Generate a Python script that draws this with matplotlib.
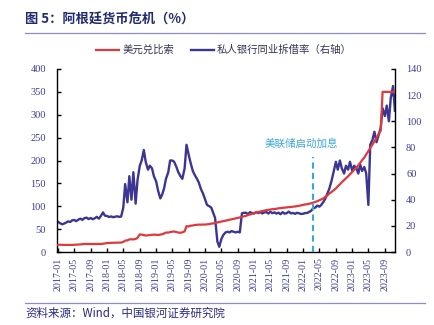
import matplotlib
matplotlib.use("Agg")
import matplotlib.pyplot as plt
import matplotlib.dates as mdates
from matplotlib.lines import Line2D
import pandas as pd

# ---------------- data (semi-monthly readings) ----------------
start_date = "2017-01-01"
end_date = "2023-11-15"

# USD/ARS (left axis)
usd_ars = [
    15.8, 15.9, 15.6, 15.5, 15.5, 15.4, 15.4, 15.5, 15.8, 16.1, 16.2, 16.6,
    17.2, 17.6, 17.5, 17.4, 17.3, 17.4, 17.6, 17.6, 17.6, 17.5, 18.0, 18.8,
    19.5, 19.8, 20.1, 20.2, 20.3, 20.4, 20.4, 20.6, 22.0, 24.8, 25.5, 27.5,
    27.8, 27.5, 28.5, 31.0, 38.5, 38.0, 37.0, 36.0, 36.5, 36.8, 37.5, 38.0,
    37.5, 37.2, 38.0, 39.0, 40.5, 42.5, 42.5, 43.5, 44.5, 44.8, 43.5, 42.5,
    42.0, 43.0, 45.0, 56.5, 56.0, 57.5, 58.0, 59.0, 59.5, 59.8, 59.9, 59.9,
    60.0, 60.5, 61.0, 62.0, 62.5, 63.5, 64.5, 65.5, 66.5, 67.5, 68.5, 69.5,
    70.5, 71.5, 72.5, 73.5, 74.5, 75.5, 77.0, 78.0, 79.0, 81.0, 82.0, 83.5,
    85.0, 86.5, 87.5, 88.5, 89.5, 90.5, 91.5, 92.0, 93.0, 93.5, 94.0, 94.5,
    95.5, 96.0, 96.5, 97.0, 97.5, 98.0, 98.5, 99.0, 99.5, 100.2, 101.0, 102.0,
    103.0, 104.0, 104.5, 105.5, 106.5, 108.0, 109.5, 111.0, 113.0, 115.0, 117.5, 120.5,
    124.0, 128.0, 131.5, 135.0, 139.0, 143.5, 148.0, 152.5, 157.0, 161.0, 165.5, 170.0,
    175.0, 179.5, 184.5, 189.5, 195.0, 200.5, 206.5, 213.5, 220.5, 227.5, 235.0, 242.0,
    249.5, 257.0, 265.0, 350.0, 350.0, 350.0, 350.0, 350.0, 350.0, 352.0,
]

# Private bank interbank rate (right axis)
interbank_rate = [
    23.0, 22.0, 21.2, 21.8, 22.5, 23.4, 23.0, 24.2, 24.5, 23.6, 24.8, 25.5,
    24.6, 25.9, 26.3, 25.2, 26.0, 25.1, 25.8, 26.9, 25.5, 27.6, 30.3, 27.8,
    27.5, 26.8, 27.2, 26.6, 27.0, 27.3, 26.9, 27.1, 34.0, 52.0, 38.0, 58.0,
    40.0, 61.0, 37.0, 55.0, 66.0, 70.0, 78.0, 69.0, 63.0, 66.0, 64.0, 58.0,
    54.0, 47.0, 41.0, 44.0, 48.7, 56.0, 61.0, 70.0, 70.0, 69.0, 65.0, 61.0,
    58.0, 56.0, 64.0, 82.0, 74.0, 68.0, 62.0, 59.0, 56.0, 53.0, 48.0, 45.0,
    40.0, 36.0, 35.0, 34.0, 30.0, 26.0, 8.0, 4.0, 10.0, 13.0, 15.0, 15.5,
    15.0, 16.0, 15.5, 15.0, 15.5, 15.0, 29.6, 30.0, 30.0, 29.0, 30.5, 29.8,
    29.5, 30.5, 29.8, 30.6, 29.5, 30.2, 30.6, 29.4, 30.8, 29.7, 30.3, 29.4,
    30.1, 28.9, 30.5, 29.3, 29.8, 30.9, 29.5, 29.9, 29.2, 30.0, 29.6, 29.1,
    29.3, 29.8, 29.9, 30.8, 31.5, 33.4, 34.0, 35.5, 34.7, 36.0, 38.5, 41.0,
    45.0, 48.7, 55.0, 61.4, 69.0, 63.0, 70.0, 64.0, 60.0, 66.0, 63.0, 69.0,
    62.0, 66.0, 64.0, 60.0, 67.0, 62.0, 65.0, 60.0, 36.0, 82.0, 86.0, 92.0,
    84.0, 89.0, 95.0, 110.0, 104.0, 112.0, 100.0, 118.0, 127.0, 108.0,
]

series_names = ["美元兑比索", "私人银行同业拆借率（右轴）"]
left_ticks = [0, 50, 100, 150, 200, 250, 300, 350, 400]
right_ticks = [0, 20, 40, 60, 80, 100, 120, 140]
fed_hike_date = "2022-03-16"
fed_hike_label = "美联储启动加息"
title_text = "图 5：阿根廷货币危机（%）"
source_text = "资料来源：Wind，中国银河证券研究院"

dates = pd.date_range(start_date, end_date, freq="SMS")
xticks = pd.date_range("2017-01-01", "2023-09-01", freq="4MS")

# ---------------- styling ----------------
plt.rcParams["font.family"] = ["Noto Sans CJK SC", "DejaVu Sans"]
RED = "#e0393c"
NAVY = "#3b3593"
TICKC = "#3c3c96"
CYAN = "#3aa8d6"
LINEC = "#8c8ccc"

fig = plt.figure(figsize=(4.34, 3.25), dpi=100)
ax = fig.add_axes([0.1313, 0.2246, 0.7787, 0.5631])
ax2 = ax.twinx()

ax.plot(dates, usd_ars, color=RED, lw=1.6, zorder=3)
ax2.plot(dates, interbank_rate, color=NAVY, lw=1.7, zorder=2)
ax.set_zorder(ax2.get_zorder() + 1)
ax.patch.set_visible(False)

ax.set_ylim(0, 400)
ax2.set_ylim(0, 140)
ax.set_yticks(left_ticks)
ax2.set_yticks(right_ticks)
ax.set_xlim(pd.Timestamp("2016-12-23"), pd.Timestamp(end_date))
ax.set_xticks(xticks)
ax.xaxis.set_major_formatter(mdates.DateFormatter("%Y-%m"))

serif = "Liberation Serif"
for a in (ax, ax2):
    a.spines["top"].set_visible(False)
    for s in ("left", "right", "bottom"):
        a.spines[s].set_linewidth(1.0)
        a.spines[s].set_color("black")
ax.spines["right"].set_visible(False)
ax2.spines["left"].set_visible(False)
ax2.spines["bottom"].set_visible(False)

ax.tick_params(axis="y", direction="in", length=3, width=1, pad=8,
               labelsize=7.5, labelcolor=TICKC)
ax2.tick_params(axis="y", direction="in", length=3, width=1, pad=8,
                labelsize=7.5, labelcolor=TICKC)
ax.tick_params(axis="x", direction="in", length=3, width=1, pad=4,
               labelsize=7.2, labelcolor=TICKC, rotation=90)
for lab in ax.get_yticklabels() + ax2.get_yticklabels() + ax.get_xticklabels():
    lab.set_fontfamily(serif)

# Fed hike marker
ax.vlines(pd.Timestamp(fed_hike_date), 0, 208, colors=CYAN, lw=1.5,
          linestyles=(0, (3, 2)), zorder=4)
ax.text(pd.Timestamp("2021-12-15"), 237, fed_hike_label, color=CYAN,
        fontsize=7.6, ha="center", va="center")

# Legend
handles = [Line2D([], [], color=RED, lw=1.6), Line2D([], [], color=NAVY, lw=1.7)]
fig.legend(handles, series_names, loc="center", bbox_to_anchor=(0.516, 0.846),
           ncol=2, frameon=False, fontsize=7.5, handlelength=2.2,
           handletextpad=0.3, columnspacing=1.6, labelcolor="#333355")

# Title, rules, source
fig.text(25 / 434, 1 - 20 / 325, title_text, fontsize=9.5, fontweight="bold",
         color="#1f2a6e", ha="left", va="center")
fig.add_artist(Line2D([25 / 434, 425 / 434], [1 - 32.5 / 325] * 2,
                      color=LINEC, lw=0.9))
fig.add_artist(Line2D([25 / 434, 425 / 434], [1 - 303 / 325] * 2,
                      color=LINEC, lw=0.9))
fig.text(25 / 434, 1 - 313 / 325, source_text, fontsize=8.3, style="italic",
         color="#2a2a80", ha="left", va="center")

fig.savefig("out.png", dpi=100)
